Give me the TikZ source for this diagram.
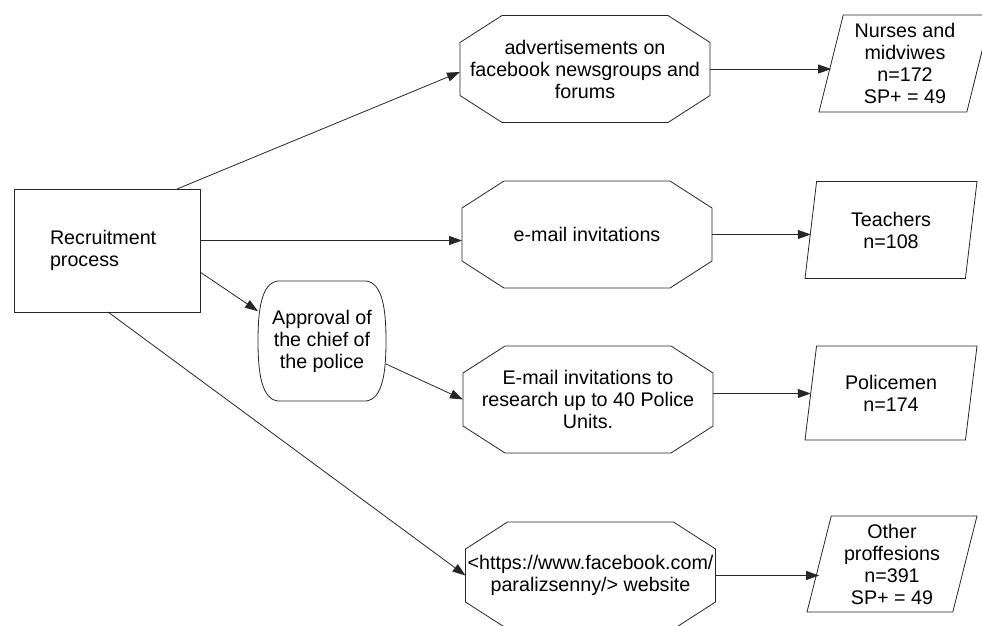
\documentclass[tikz,border=0pt]{standalone}
\usepackage{fontspec}
\setmainfont{Liberation Sans}
\usetikzlibrary{arrows.meta,shapes.geometric,positioning}

\tikzset{
   every node/.style={font=\fontsize{19.7pt}{22pt}\selectfont, text=black, align=center, inner sep=2pt, outer sep=0pt},
   box/.style={draw, minimum width=186pt, minimum height=123pt, text width=114pt, align=left},
   octbox/.style={minimum width=250pt, minimum height=107pt, inner xsep=0pt},
   approvalbox/.style={minimum width=128pt, minimum height=120pt},
   groupbox/.style={draw, trapezium, trapezium left angle=74, trapezium right angle=106,
      trapezium stretches body, minimum width=172pt, minimum height=97pt},
   flow/.style={-{Triangle[length=13pt,width=9pt]}},
}
\newcommand{\octframe}[1]{%
   \draw ([xshift=42pt]#1.north west) -- ([xshift=-42pt]#1.north east)
      -- ([yshift=-27pt]#1.north east) -- ([yshift=27pt]#1.south east)
      -- ([xshift=-42pt]#1.south east) -- ([xshift=42pt]#1.south west)
      -- ([yshift=27pt]#1.south west) -- ([yshift=-27pt]#1.north west) -- cycle;}
\newcommand{\bulgeframe}[1]{%
   \draw ([xshift=20pt]#1.north west) -- ([xshift=-20pt]#1.north east)
      .. controls ([xshift=-3pt,yshift=-2pt]#1.north east) and ([yshift=30pt]#1.east) .. (#1.east)
      .. controls ([yshift=-30pt]#1.east) and ([xshift=-3pt,yshift=2pt]#1.south east) .. ([xshift=-20pt]#1.south east)
      -- ([xshift=20pt]#1.south west)
      .. controls ([xshift=3pt,yshift=2pt]#1.south west) and ([yshift=-30pt]#1.west) .. (#1.west)
      .. controls ([yshift=30pt]#1.west) and ([xshift=3pt,yshift=-2pt]#1.north west) .. cycle;}

\begin{document}
\begin{tikzpicture}[x=1pt, y=-1pt, line width=0.8pt, color=black!85]
   \useasboundingbox (0,0) rectangle (982,626);
   \node[box] (rec) at (107,250.5) {Recruitment\\process};
   \node[approvalbox] (approval) at (322,341) {Approval of\\the chief of\\the police};
   \bulgeframe{approval}
   \node[octbox] (oct1) at (585,69) {advertisements on\\facebook newsgroups and\\forums};
   \node[octbox] (oct2) at (587,234.5) {e-mail invitations};
   \node[octbox] (oct3) at (588,399.5) {E-mail invitations to\\research up to 40 Police\\Units.};
   \node[octbox] (oct4) at (590.5,575.5) {<https://www.facebook.com/\\paralizsenny/> website};
   \foreach \o in {oct1,oct2,oct3,oct4} {\octframe{\o}}
   \node[groupbox] (nurses) at (905,63.5) {Nurses and\\midviwes\\n=172\\SP+ = 49};
   \node[groupbox] (teachers) at (891,230) {Teachers\\n=108};
   \node[groupbox, minimum height=94pt] (police) at (891,393) {Policemen\\n=174};
   \node[groupbox, minimum height=96pt, minimum width=170pt] (other) at (892,564) {Other\\proffesions\\n=391\\SP+ = 49};

   \draw[flow] ([xshift=70pt]rec.north) -- ([yshift=-3pt]oct1.west);
   \draw[flow] ([yshift=10pt]rec.east) -- ([yshift=10pt]rec.east -| oct2.west);
   \draw[flow] ([yshift=-21.5pt]rec.east) -- (approval.155);
   \draw[flow] ([xshift=1pt]rec.south) -- (oct4.west);
   \draw[flow] ([yshift=-23pt]approval.east) -- (oct3.west);
   \draw[flow] (oct1.east) -- (oct1.east -| nurses.west);
   \draw[flow] (oct2.east) -- (oct2.east -| teachers.west);
   \draw[flow] ([yshift=6pt]oct3.east) -- ([yshift=6pt]oct3.east -| police.west);
   \draw[flow] (oct4.east) -- (oct4.east -| other.west);
\end{tikzpicture}
\end{document}
